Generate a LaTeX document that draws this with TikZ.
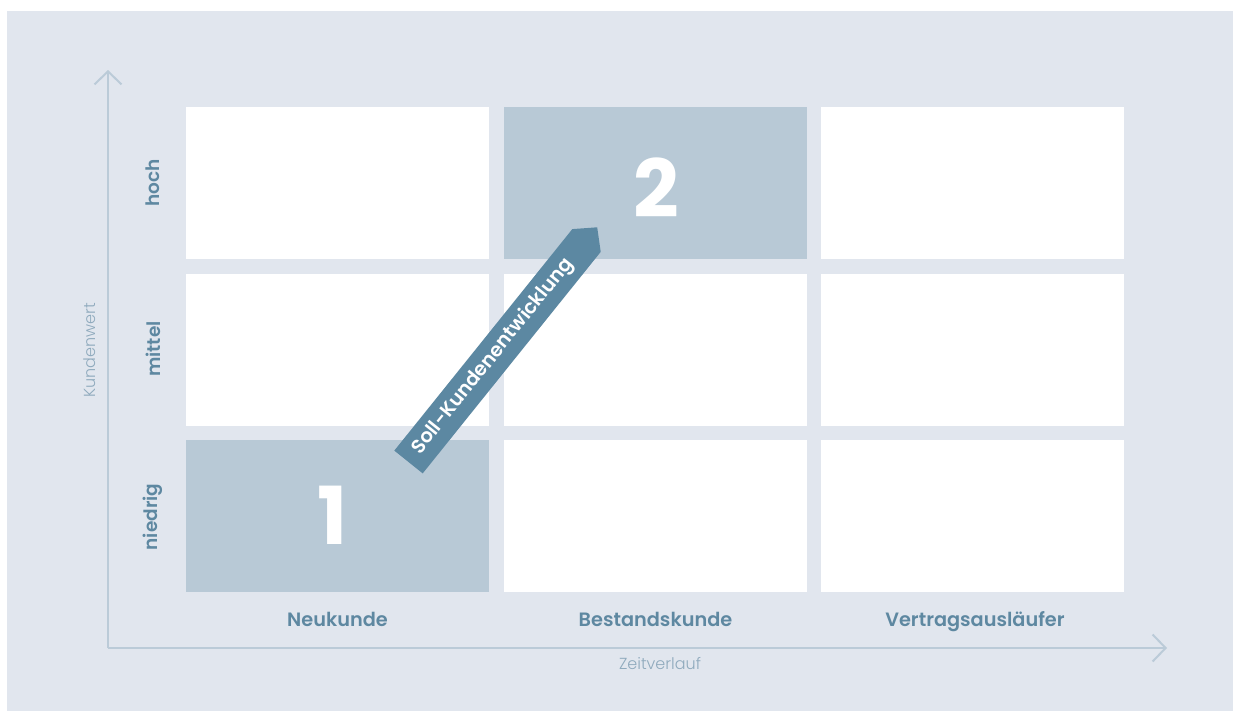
\documentclass[tikz,border=0pt]{standalone}
\usepackage{fontspec}
\setmainfont{Poppins}
\IfFontExistsTF{Poppins SemiBold}{\newfontfamily\medfont{Poppins SemiBold}}{\newcommand\medfont{\bfseries}}
\IfFontExistsTF{Poppins Light}{\newfontfamily\lightfont{Poppins Light}}{\newcommand\lightfont{}}
\usetikzlibrary{arrows.meta}
\definecolor{bggray}{HTML}{E1E6EE}
\definecolor{hilite}{HTML}{B8C9D6}
\definecolor{bandblue}{HTML}{5C88A2}
\definecolor{labelblue}{HTML}{5E88A1}
\definecolor{titleblue}{HTML}{8FAABD}
\definecolor{axisline}{HTML}{BBCBD8}
\tikzset{
  cell/.style={fill=white, draw=none, minimum width=303pt, minimum height=152pt, inner sep=0pt},
  hcell/.style={cell, fill=hilite},
  bignum/.style={text=white, font=\bfseries\fontsize{80}{80}\selectfont, inner sep=0pt},
  rowlab/.style={text=labelblue, font=\medfont\fontsize{18.5}{18.5}\selectfont, rotate=90, inner sep=0pt},
  collab/.style={text=labelblue, font=\medfont\fontsize{19.3}{19.3}\selectfont, inner sep=0pt, anchor=base},
  axtitle/.style={text=titleblue, font=\lightfont\fontsize{16}{16}\selectfont, inner sep=0pt},
  axis/.style={draw=axisline, line width=2pt, -{Straight Barb[length=13pt, width=27pt, line width=2pt]}},
  band/.style={fill=bandblue, draw=none},
  bandtext/.style={text=white, font=\medfont\fontsize{19.5}{19.5}\selectfont, inner sep=0pt, rotate=51.2}
}
\begin{document}
\begin{tikzpicture}[x=1pt, y=-1pt]
\useasboundingbox (0,0) rectangle (1238,717);
\fill[bggray] (7,11) rectangle (1233,711);
% axes
\coordinate (origin) at (108,648);
\coordinate (ytip) at (108,70);
\coordinate (xtip) at (1167,648);
\draw[axis] (origin) -- (ytip);
\draw[axis] (origin) -- (xtip);
% cells
\node[cell]  (c11) at (337.5,183) {};
\node[hcell] (c12) at (655.5,183) {};
\node[cell]  (c13) at (972.5,183) {};
\node[cell]  (c21) at (337.5,350) {};
\node[cell]  (c22) at (655.5,350) {};
\node[cell]  (c23) at (972.5,350) {};
\node[hcell] (c31) at (337.5,516) {};
\node[cell]  (c32) at (655.5,516) {};
\node[cell]  (c33) at (972.5,516) {};
\node[bignum] (n2) at (656,188) {2};
\node[bignum] (n1) at (333,515) {1};
% band arrow
\coordinate (b1) at (394.3,450.6);
\coordinate (b2) at (422.7,473.4);
\coordinate (b3) at (600.7,251.9);
\coordinate (b4) at (597.2,227.3);
\coordinate (b5) at (572.3,229.1);
\fill[band] (b1) -- (b2) -- (b3) -- (b4) -- (b5) -- cycle;
\node[bandtext] (bt) at (493,356.5) {Soll-Kundenentwicklung};
% row labels
\node[rowlab] (lhoch) at (153,183) {hoch};
\node[rowlab] (lmittel) at (153,349) {mittel};
\node[rowlab] (lniedrig) at (153,517) {niedrig};
% column labels
\node[collab] (lneu) at (337.5,626) {Neukunde};
\node[collab] (lbest) at (655.5,626) {Bestandskunde};
\node[collab] (lvert) at (975,626) {Vertragsausläufer};
% axis titles
\node[axtitle, rotate=90] (ky) at (90,350) {Kundenwert};
\node[axtitle] (kx) at (660,664) {Zeitverlauf};
\end{tikzpicture}
\end{document}
